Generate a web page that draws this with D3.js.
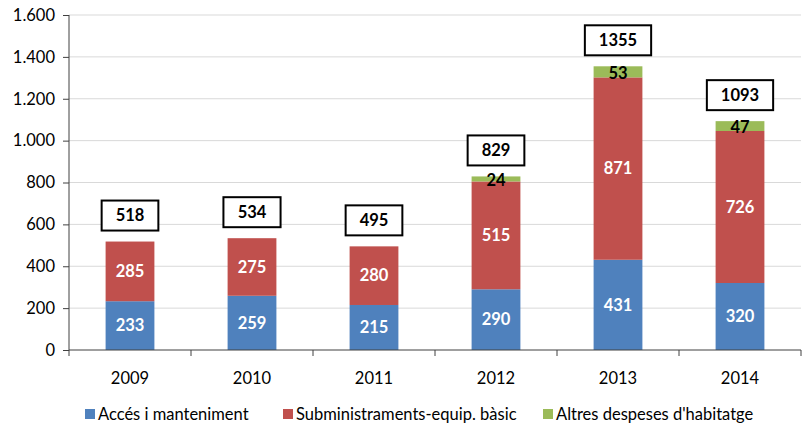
<!DOCTYPE html>
<html>
<head>
<meta charset="utf-8">
<script src="https://cdn.jsdelivr.net/npm/d3@7"></script>
<style>
  body { margin: 0; background: #fff; }
  svg text { font-family: Lato, "Open Sans", sans-serif; }
</style>
</head>
<body>
<svg class="chart"></svg>
<script>
(function () {
    const years = ["2009", "2010", "2011", "2012", "2013", "2014"];
    const acces = [233, 259, 215, 290, 431, 320];
    const subministraments = [285, 275, 280, 515, 871, 726];
    const altres = [0, 0, 0, 24, 53, 47];
    const totals = [518, 534, 495, 829, 1355, 1093];
    const seriesNames = ["Accés i manteniment", "Subministraments-equip. bàsic", "Altres despeses d'habitatge"];
    const yTicks = [0, 200, 400, 600, 800, 1000, 1200, 1400, 1600];

    const colours = ["#4F81BD", "#C0504D", "#9BBB59"];
    const width = 803, height = 427;
    const margin = { left: 69, top: 15, right: 2, bottom: 77 };

    let svg = d3.select("svg.chart")
        .attr("width", width)
        .attr("height", height);

    let x = d3.scaleBand()
        .domain(years)
        .range([margin.left, width - margin.right])
        .paddingInner(0.6)
        .paddingOuter(0.3);

    let y = d3.scaleLinear()
        .domain([0, 1600])
        .range([height - margin.bottom, margin.top]);

    let fmt = function (d) { return d3.format(",")(d).replace(/,/g, "."); };

    // grid
    svg.append("g")
        .selectAll("line")
        .data(yTicks.slice(1))
        .enter().append("line")
        .attr("x1", margin.left)
        .attr("x2", width - margin.right)
        .attr("y1", function (d) { return y(d); })
        .attr("y2", function (d) { return y(d); })
        .attr("stroke", "#d9d9d9")
        .attr("stroke-width", 1);

    // stacked bars
    let table = years.map(function (yr, i) {
        return { year: yr, a: acces[i], s: subministraments[i], o: altres[i] };
    });
    let stack = d3.stack().keys(["a", "s", "o"]);
    let layers = stack(table);

    let layerG = svg.selectAll(".layer")
        .data(layers)
        .enter().append("g")
        .attr("class", "layer")
        .attr("fill", function (d, i) { return colours[i]; });

    layerG.selectAll("rect")
        .data(function (d) { return d; })
        .enter().append("rect")
        .attr("x", function (d) { return x(d.data.year); })
        .attr("width", x.bandwidth())
        .attr("y", function (d) { return y(d[1]); })
        .attr("height", function (d) { return y(d[0]) - y(d[1]); });

    // segment labels
    layerG.each(function (layer, li) {
        d3.select(this).selectAll("text")
            .data(layer.filter(function (d) { return d[1] - d[0] > 0; }))
            .enter().append("text")
            .attr("x", function (d) { return x(d.data.year) + x.bandwidth() / 2; })
            .attr("y", function (d) { return (y(d[0]) + y(d[1])) / 2; })
            .attr("dy", li == 2 ? "0.45em" : "0.35em")
            .attr("text-anchor", "middle")
            .attr("fill", li == 2 ? "#000" : "#fff")
            .style("font-size", "16.5px")
            .style("font-weight", "bold")
            .text(function (d) { return d[1] - d[0]; });
    });

    // total boxes
    let totalG = svg.append("g")
        .selectAll("g")
        .data(years)
        .enter().append("g")
        .attr("transform", function (d, i) {
            return "translate(" + (x(d) + x.bandwidth() / 2) + "," + (y(totals[i]) - 26) + ")";
        });

    totalG.append("text")
        .attr("text-anchor", "middle")
        .attr("dy", "0.36em")
        .style("font-size", "16.5px")
        .style("font-weight", "bold")
        .text(function (d, i) { return totals[i]; });

    totalG.each(function () {
        let g = d3.select(this);
        let bb = g.select("text").node().getBBox();
        let w = bb.width + 28;
        g.insert("rect", "text")
            .attr("x", -w / 2)
            .attr("y", -15)
            .attr("width", w)
            .attr("height", 30)
            .attr("fill", "#fff")
            .attr("stroke", "#000")
            .attr("stroke-width", 2);
    });

    // y axis
    let yAxis = svg.append("g")
        .attr("transform", "translate(" + margin.left + ",0)")
        .call(d3.axisLeft(y).tickValues(yTicks).tickFormat(fmt).tickSize(6).tickPadding(8));
    yAxis.select(".domain").attr("stroke", "#404040").attr("d", "M0," + y(1600) + "V" + y(0));
    yAxis.selectAll(".tick line").attr("stroke", "#404040");
    yAxis.selectAll("text").style("font-size", "16.5px").attr("fill", "#000");

    // x axis
    let xg = svg.append("g")
        .attr("transform", "translate(0," + y(0) + ")");
    xg.append("line")
        .attr("x1", margin.left).attr("x2", width - margin.right)
        .attr("stroke", "#404040");
    let bounds = d3.range(years.length + 1).map(function (i) { return margin.left + i * (width - margin.right - margin.left) / years.length; });
    xg.selectAll(".xtick")
        .data(bounds)
        .enter().append("line")
        .attr("x1", function (d) { return d; })
        .attr("x2", function (d) { return d; })
        .attr("y1", 0).attr("y2", 6)
        .attr("stroke", "#404040");
    xg.selectAll(".xlabel")
        .data(years)
        .enter().append("text")
        .attr("x", function (d) { return x(d) + x.bandwidth() / 2; })
        .attr("y", 34)
        .attr("text-anchor", "middle")
        .style("font-size", "16.5px")
        .text(function (d) { return d; });

    // legend
    const legendX = [85, 283, 543];
    let legend = svg.append("g")
        .selectAll("g")
        .data(seriesNames)
        .enter().append("g")
        .attr("transform", function (d, i) { return "translate(" + legendX[i] + ",409)"; });
    legend.append("rect")
        .attr("width", 10).attr("height", 10)
        .attr("fill", function (d, i) { return colours[i]; });
    legend.append("text")
        .attr("x", 13)
        .attr("y", 5)
        .attr("dy", "0.36em")
        .style("font-size", "16.5px")
        .text(function (d) { return d; });
}());
</script>
</body>
</html>
